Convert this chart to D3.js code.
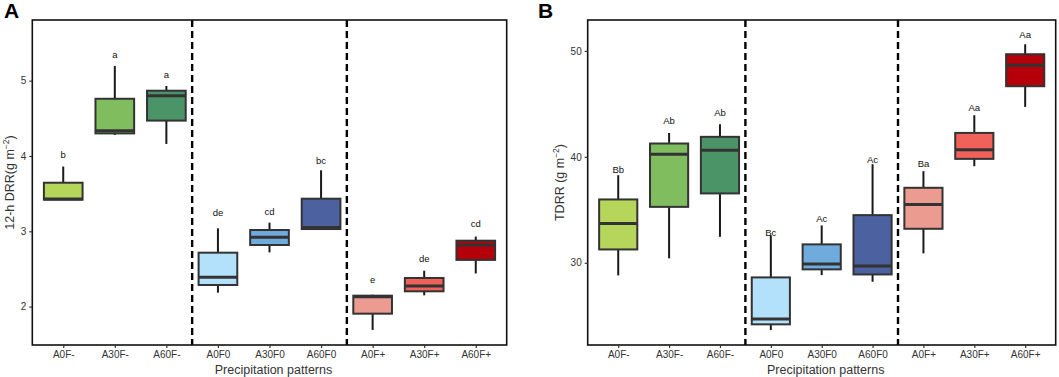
<!DOCTYPE html>
<html><head><meta charset="utf-8">
<script src="https://cdn.jsdelivr.net/npm/d3@7"></script>
<style>body{margin:0;background:#fff}svg{display:block}text{font-family:"Liberation Sans",Arial,sans-serif}</style>
</head><body><svg id="c" width="1059" height="377"></svg>
<script>
const categories = ["A0F-","A30F-","A60F-","A0F0","A30F0","A60F0","A0F+","A30F+","A60F+"];
const colors = ["#b5d65b","#80bd5f","#4a9468","#b3e0fb","#70abdd","#4b61a0","#eb9b8f","#f0615a","#b5000c"];
// Panel A: 12-h DRR
const aLow    = [3.42,4.28,4.16,2.185,2.72,3.02,1.69,2.15,2.44];
const aQ1     = [3.42,4.30,4.47,2.287,2.818,3.03,1.906,2.203,2.62];
const aMedian = [3.43,4.336,4.80,2.39,2.92,3.05,2.13,2.274,2.818];
const aQ3     = [3.645,4.76,4.867,2.716,3.017,3.433,2.145,2.38,2.875];
const aHigh   = [3.86,5.195,4.93,3.04,3.115,3.81,2.158,2.477,2.93];
const aLetters = ["b","a","a","de","cd","bc","e","de","cd"];
const aLetterY = [4.02,5.35,5.08,3.25,3.26,3.94,2.36,2.64,3.11];
const aTicks = [2,3,4,5];
// Panel B: TDRR
const bLow    = [28.81,30.42,32.45,23.65,28.84,28.21,30.89,39.12,44.72];
const bQ1     = [31.26,35.28,36.55,24.19,29.38,28.9,33.21,39.81,46.67];
const bMedian = [33.72,40.25,40.63,24.69,29.88,29.69,35.51,40.66,48.65];
const bQ3     = [35.98,41.26,41.89,28.62,31.74,34.5,37.08,42.26,49.69];
const bHigh   = [38.27,42.26,43.08,32.6,33.53,39.31,38.65,43.93,50.63];
const bLetters = ["Bb","Ab","Ab","Bc","Ac","Ac","Ba","Aa","Aa"];
const bLetterY = [38.81,43.46,44.22,32.9,34.19,39.75,39.38,44.62,51.55];
const bTicks = [30,40,50];

const svg = d3.select("#c");

function panel(cfg){
  const {x0,x1,y0,y1,domain,low,q1,med,q3,high,letters,letterY,ticks,ytitle,ytitleX,tag,tagX} = cfg;
  const g = svg.append("g");
  const x = d3.scalePoint().domain(categories).range([x0,x1]).padding(0.6);
  const step = x.step();
  const y = d3.scaleLinear().domain(domain).range([y1,y0]);
  const bw = step*0.75;
  [2.5,5.5].forEach(k=>{
    const xx = x(categories[0]) + k*step;
    g.append("line").attr("x1",xx).attr("x2",xx).attr("y1",y0).attr("y2",y1)
      .attr("stroke","#000").attr("stroke-width",2.4).attr("stroke-dasharray","7,4");
  });
  const data = categories.map((c,i)=>({c,i}));
  const bx = g.selectAll(".b").data(data).enter().append("g");
  bx.append("line").attr("x1",d=>x(d.c)).attr("x2",d=>x(d.c))
    .attr("y1",d=>y(high[d.i])).attr("y2",d=>y(q3[d.i])).attr("stroke","#1a1a1a").attr("stroke-width",2);
  bx.append("line").attr("x1",d=>x(d.c)).attr("x2",d=>x(d.c))
    .attr("y1",d=>y(q1[d.i])).attr("y2",d=>y(low[d.i])).attr("stroke","#1a1a1a").attr("stroke-width",2);
  bx.append("rect").attr("x",d=>x(d.c)-bw/2).attr("width",bw)
    .attr("y",d=>y(q3[d.i])).attr("height",d=>Math.max(0,y(q1[d.i])-y(q3[d.i])))
    .attr("fill",d=>colors[d.i]).attr("stroke","#333").attr("stroke-width",2);
  bx.append("line").attr("x1",d=>x(d.c)-bw/2).attr("x2",d=>x(d.c)+bw/2)
    .attr("y1",d=>y(med[d.i])).attr("y2",d=>y(med[d.i])).attr("stroke","#333").attr("stroke-width",3);
  bx.append("text").attr("x",d=>x(d.c)).attr("y",d=>y(letterY[d.i])+3.5)
    .attr("text-anchor","middle").attr("font-size",9.5).attr("fill","#111").text(d=>letters[d.i]);
  g.append("rect").attr("x",x0).attr("y",y0).attr("width",x1-x0).attr("height",y1-y0)
    .attr("fill","none").attr("stroke","#111").attr("stroke-width",1.6);
  const ax = g.append("g").attr("transform",`translate(0,${y1})`)
    .call(d3.axisBottom(x).tickSize(3).tickPadding(3));
  const ay = g.append("g").attr("transform",`translate(${x0},0)`)
    .call(d3.axisLeft(y).tickValues(ticks).tickFormat(d3.format("d")).tickSize(3).tickPadding(3));
  [ax,ay].forEach(a=>{
    a.select(".domain").remove();
    a.selectAll("line").attr("stroke","#333").attr("stroke-width",1.2);
    a.selectAll("text").attr("font-size",10).attr("fill","#333").attr("font-family","Liberation Sans, Arial, sans-serif");
  });
  g.append("text").attr("x",(x0+x1)/2+4).attr("y",374).attr("text-anchor","middle")
    .attr("font-size",12.5).attr("fill","#333").text("Precipitation patterns");
  const yt = g.append("text").attr("transform",`translate(${ytitleX},${(y0+y1)/2}) rotate(-90)`)
    .attr("text-anchor","middle").attr("font-size",12.5).attr("fill","#333");
  yt.append("tspan").text(ytitle);
  yt.append("tspan").text("(g m");
  yt.append("tspan").attr("dy",-5).attr("font-size",8.5).text("−2");
  yt.append("tspan").attr("dy",5).text(")");
  g.append("text").attr("x",tagX).attr("y",18).attr("font-size",21).attr("font-weight","bold").attr("fill","#000").text(tag);
}

panel({x0:32.3,x1:506.7,y0:20,y1:345,domain:[1.49,5.806],low:aLow,q1:aQ1,med:aMedian,q3:aQ3,high:aHigh,
  letters:aLetters,letterY:aLetterY,ticks:aTicks,ytitle:"12-h DRR",ytitleX:14,tag:"A",tagX:4});
panel({x0:587.7,x1:1055.7,y0:20,y1:345,domain:[22.24,52.92],low:bLow,q1:bQ1,med:bMedian,q3:bQ3,high:bHigh,
  letters:bLetters,letterY:bLetterY,ticks:bTicks,ytitle:"TDRR ",ytitleX:564,tag:"B",tagX:538});
</script></body></html>
